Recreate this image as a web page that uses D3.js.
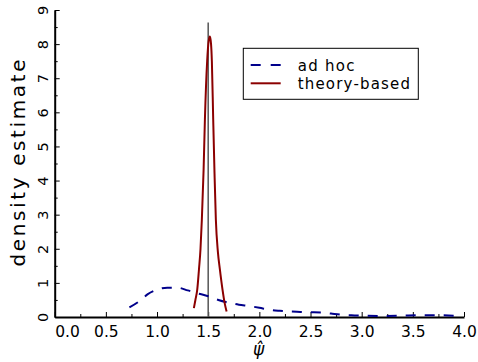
<!DOCTYPE html>
<html><head><meta charset="utf-8">
<script src="https://cdn.jsdelivr.net/npm/d3@7"></script>
<style>
html,body{margin:0;padding:0;background:#fff;}
text{font-family:"DejaVu Sans",sans-serif;fill:#000;}
</style></head>
<body><svg id="chart" width="478" height="362"></svg>
<script>
// ---- data ----
const xTickValues = [0, 0.5, 1, 1.5, 2, 2.5, 3, 3.5, 4];
const xTickLabels = ["0.0","0.5","1.0","1.5","2.0","2.5","3.0","3.5","4.0"];
const yTickValues = [0,1,2,3,4,5,6,7,8,9];
const yTickLabels = ["0","1","2","3","4","5","6","7","8","9"];
const seriesNames = ["ad hoc", "theory-based"];
const adHocX = [0.73,0.83,0.91,1.0,1.1,1.2,1.3,1.4,1.5,1.6,1.7,1.8,1.9,2.0,2.1,2.2,2.3,2.4,2.5,2.6,2.7,2.8,2.9,3.0,3.2,3.4,3.6,3.8,3.9];
const adHocY = [0.28,0.47,0.67,0.8,0.86,0.86,0.78,0.69,0.61,0.5,0.42,0.36,0.32,0.27,0.21,0.18,0.16,0.15,0.14,0.13,0.1,0.07,0.05,0.04,0.03,0.04,0.05,0.05,0.04];
const theoryX = [1.36,1.375,1.393,1.41,1.425,1.438,1.455,1.468,1.49,1.505,1.517,1.528,1.536,1.549,1.562,1.575,1.595,1.614,1.64,1.66,1.68];
const theoryY = [0.26,0.5,0.8,1.4,2.0,2.85,4.3,5.8,7.5,8.1,8.22,8.0,7.5,5.8,4.2,2.85,1.9,1.4,0.8,0.42,0.16];
const refLineX = 1.5;
const refLineTop = 8.63;
const xTitle = "\u03C8\u0302";
const yTitle = "density estimate";

// ---- chart ----
const svg = d3.select("#chart");
const x = d3.scaleLinear().domain([0,4]).range([54.7,464]);
const y = d3.scaleLinear().domain([0,9]).range([317,10]);

const xMinor = d3.range(0, 4.001, 0.25).filter(v => Math.abs(v*2 - Math.round(v*2)) > 1e-6);
const yMinor = d3.range(0.5, 9, 1);

// minor ticks
svg.append("g").attr("transform","translate(0,317)")
  .call(d3.axisBottom(x).tickValues(xMinor).tickSize(-3).tickFormat(""))
  .call(g=>g.select(".domain").remove())
  .call(g=>g.selectAll("line").attr("stroke","#000").attr("stroke-width",1));
svg.append("g").attr("transform","translate(54.7,0)")
  .call(d3.axisLeft(y).tickValues(yMinor).tickSize(-3).tickFormat(""))
  .call(g=>g.select(".domain").remove())
  .call(g=>g.selectAll("line").attr("stroke","#000").attr("stroke-width",1));

// major x axis
const gx = svg.append("g").attr("transform","translate(0,317)")
  .call(d3.axisBottom(x).tickValues(xTickValues).tickSize(-5).tickSizeOuter(0)
        .tickFormat((d,i)=>xTickLabels[i]));
gx.select(".domain").attr("stroke","#000").attr("stroke-width",2);
gx.selectAll("line").attr("stroke","#000").attr("stroke-width",1);
gx.selectAll("text").attr("y",19.7).attr("dy",0)
  .style("font-size","15.5px").style("font-family","DejaVu Sans, sans-serif").attr("fill","#000")
  .attr("text-anchor",(d,i)=> i===0 ? "start" : "middle");

// major y axis
const gy = svg.append("g").attr("transform","translate(54.7,0)")
  .call(d3.axisLeft(y).tickValues(yTickValues).tickSize(-5).tickSizeOuter(0)
        .tickFormat((d,i)=>yTickLabels[i]));
gy.select(".domain").attr("stroke","#000").attr("stroke-width",2);
gy.selectAll("line").attr("stroke","#000").attr("stroke-width",1);
gy.selectAll("text").attr("x",0).attr("dy",0)
  .attr("transform","translate(-7,0) rotate(-90)")
  .attr("text-anchor","middle")
  .style("font-size","14.5px").style("font-family","DejaVu Sans, sans-serif").attr("fill","#000");

// reference vertical line
svg.append("line")
  .attr("x1",x(refLineX)).attr("x2",x(refLineX))
  .attr("y1",y(0)).attr("y2",y(refLineTop))
  .attr("stroke","#555").attr("stroke-width",1.5);

// curves
const line = d3.line().x(d=>x(d[0])).y(d=>y(d[1])).curve(d3.curveMonotoneX);
svg.append("path").datum(adHocX.map((v,i)=>[v,adHocY[i]]))
  .attr("d",line).attr("fill","none").attr("stroke","#00008b")
  .attr("stroke-width",2).attr("stroke-dasharray","10,9");
svg.append("path").datum(theoryX.map((v,i)=>[v,theoryY[i]]))
  .attr("d",line).attr("fill","none").attr("stroke","#8b0000")
  .attr("stroke-width",2);

// axis titles
svg.append("text").attr("transform","translate(25,163) rotate(-90)")
  .attr("text-anchor","middle").style("font-size","20px")
  .attr("textLength",207).attr("lengthAdjust","spacing")
  .text(yTitle);
svg.append("text").attr("x",258.5).attr("y",355).attr("text-anchor","middle")
  .style("font-size","17px").style("font-style","italic").text(xTitle);

// legend
const lg = svg.append("g");
lg.append("rect").attr("x",243.3).attr("y",48.3).attr("width",175).attr("height",51)
  .attr("fill","#fff").attr("stroke","#000").attr("stroke-width",1);
lg.append("line").attr("x1",250.7).attr("x2",280.7).attr("y1",65).attr("y2",65)
  .attr("stroke","#00008b").attr("stroke-width",2).attr("stroke-dasharray","10,10");
lg.append("line").attr("x1",250.7).attr("x2",280.7).attr("y1",83.3).attr("y2",83.3)
  .attr("stroke","#8b0000").attr("stroke-width",2);
lg.append("text").attr("x",297.7).attr("y",71).style("font-size","15px")
  .attr("textLength",56.7).attr("lengthAdjust","spacing").text(seriesNames[0]);
lg.append("text").attr("x",297.7).attr("y",89).style("font-size","15px")
  .attr("textLength",112.3).attr("lengthAdjust","spacing").text(seriesNames[1]);
</script>
</body></html>
